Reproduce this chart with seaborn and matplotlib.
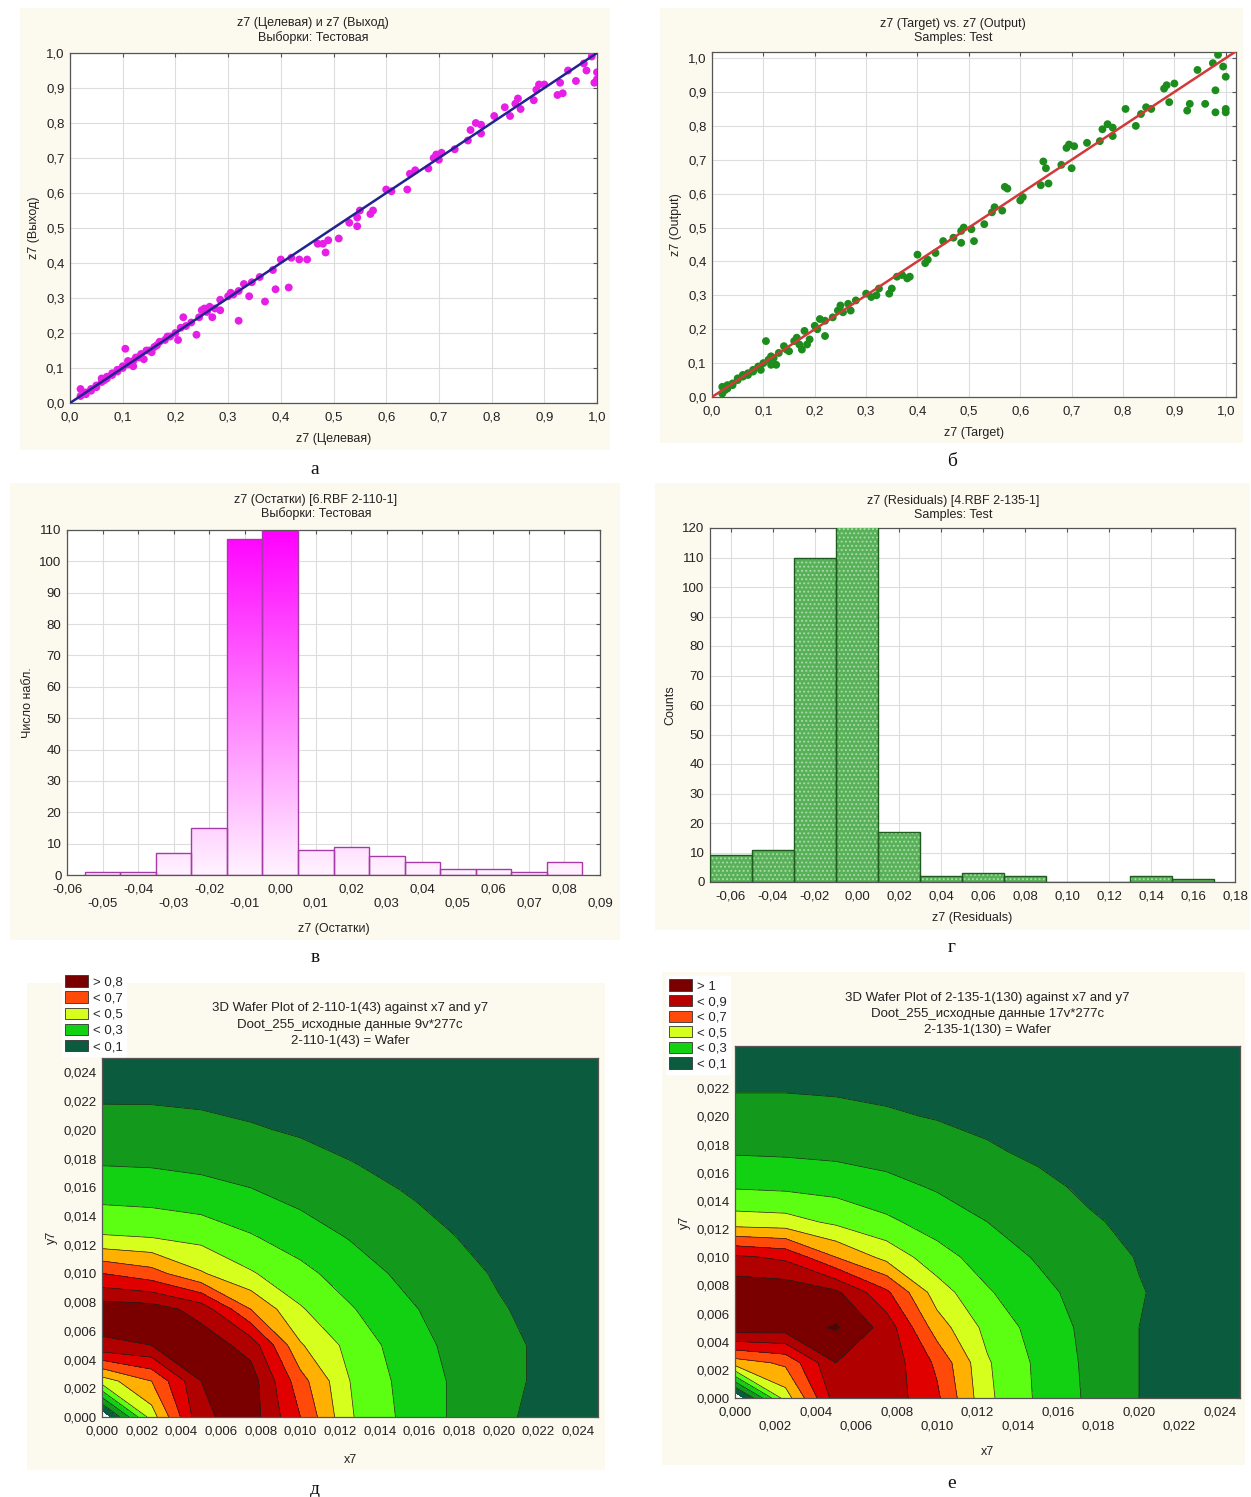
import numpy as np
import matplotlib
matplotlib.use("Agg")
import matplotlib.pyplot as plt
from matplotlib.colors import LinearSegmentedColormap
from matplotlib.patches import Rectangle, Patch
import seaborn as sns

W, H = 1251, 1497

# ---- а: target vs output, RBF 2-110-1 (test sample)
a_target = [0.02, 0.02, 0.03, 0.03, 0.04, 0.04, 0.05, 0.05, 0.06, 0.06,
            0.065, 0.07, 0.07, 0.08, 0.08, 0.09, 0.09, 0.10, 0.10, 0.105,
            0.11, 0.11, 0.12, 0.12, 0.125, 0.13, 0.135, 0.14, 0.145, 0.15,
            0.155, 0.16, 0.165, 0.17, 0.18, 0.185, 0.19, 0.20, 0.205, 0.21,
            0.215, 0.22, 0.23, 0.24, 0.245, 0.25, 0.255, 0.26, 0.265, 0.27,
            0.275, 0.285, 0.285, 0.30, 0.305, 0.31, 0.32, 0.32, 0.33, 0.34,
            0.345, 0.36, 0.37, 0.385, 0.39, 0.40, 0.415, 0.42, 0.435, 0.45,
            0.47, 0.48, 0.485, 0.49, 0.51, 0.53, 0.545, 0.55, 0.545, 0.57,
            0.575, 0.60, 0.61, 0.64, 0.645, 0.655, 0.68, 0.69, 0.695, 0.70,
            0.705, 0.73, 0.755, 0.76, 0.77, 0.78, 0.78, 0.805, 0.825, 0.835,
            0.845, 0.85, 0.855, 0.88, 0.885, 0.89, 0.90, 0.925, 0.93, 0.935,
            0.945, 0.96, 0.975, 0.98, 0.99, 1.0, 1.0, 0.995]
a_output = [0.04, 0.02, 0.03, 0.025, 0.04, 0.035, 0.05, 0.045, 0.06, 0.07,
            0.065, 0.07, 0.075, 0.08, 0.085, 0.09, 0.095, 0.10, 0.105, 0.155,
            0.11, 0.12, 0.12, 0.105, 0.13, 0.13, 0.14, 0.125, 0.15, 0.15,
            0.145, 0.16, 0.165, 0.175, 0.18, 0.19, 0.19, 0.20, 0.18, 0.215,
            0.245, 0.22, 0.23, 0.195, 0.245, 0.265, 0.27, 0.26, 0.275, 0.245,
            0.27, 0.265, 0.295, 0.305, 0.315, 0.31, 0.235, 0.32, 0.34, 0.305,
            0.345, 0.36, 0.29, 0.38, 0.325, 0.41, 0.33, 0.415, 0.41, 0.41,
            0.455, 0.455, 0.43, 0.465, 0.47, 0.515, 0.505, 0.55, 0.53, 0.54,
            0.55, 0.61, 0.605, 0.61, 0.655, 0.665, 0.67, 0.70, 0.71, 0.695,
            0.715, 0.725, 0.75, 0.78, 0.80, 0.795, 0.77, 0.82, 0.845, 0.82,
            0.855, 0.87, 0.84, 0.865, 0.895, 0.91, 0.91, 0.88, 0.915, 0.885,
            0.95, 0.92, 0.97, 0.95, 0.99, 0.945, 0.925, 0.915]
a_fit = [0.0, 1.0]

# ---- б: target vs output, RBF 2-135-1 (test sample)
b_target = [0.02, 0.02, 0.025, 0.03, 0.03, 0.04, 0.04, 0.05, 0.05, 0.06,
            0.06, 0.07, 0.07, 0.08, 0.08, 0.09, 0.095, 0.10, 0.105, 0.11,
            0.115, 0.115, 0.12, 0.125, 0.13, 0.14, 0.145, 0.15, 0.16, 0.165,
            0.17, 0.175, 0.18, 0.185, 0.19, 0.20, 0.205, 0.21, 0.22, 0.22,
            0.235, 0.245, 0.25, 0.255, 0.265, 0.27, 0.28, 0.30, 0.31, 0.32,
            0.325, 0.345, 0.35, 0.36, 0.37, 0.38, 0.385, 0.40, 0.415, 0.42,
            0.435, 0.45, 0.47, 0.485, 0.485, 0.49, 0.505, 0.51, 0.53, 0.545,
            0.55, 0.565, 0.57, 0.575, 0.60, 0.605, 0.64, 0.645, 0.65, 0.655,
            0.68, 0.69, 0.695, 0.70, 0.705, 0.73, 0.755, 0.76, 0.77, 0.78,
            0.78, 0.805, 0.825, 0.835, 0.845, 0.855, 0.88, 0.885, 0.89, 0.90,
            0.925, 0.93, 0.945, 0.96, 0.975, 0.98, 0.98, 0.985, 0.995, 1.0,
            1.0, 1.0]
b_output = [0.03, 0.01, 0.02, 0.035, 0.025, 0.04, 0.035, 0.05, 0.055, 0.06,
            0.065, 0.07, 0.065, 0.08, 0.075, 0.09, 0.08, 0.10, 0.165, 0.11,
            0.12, 0.095, 0.115, 0.095, 0.13, 0.15, 0.14, 0.135, 0.165, 0.175,
            0.155, 0.14, 0.195, 0.155, 0.17, 0.21, 0.20, 0.23, 0.18, 0.225,
            0.235, 0.255, 0.27, 0.25, 0.275, 0.255, 0.285, 0.305, 0.295, 0.30,
            0.32, 0.305, 0.32, 0.355, 0.36, 0.35, 0.355, 0.42, 0.395, 0.405,
            0.425, 0.46, 0.47, 0.455, 0.49, 0.50, 0.495, 0.46, 0.51, 0.545,
            0.56, 0.55, 0.62, 0.615, 0.58, 0.59, 0.625, 0.695, 0.675, 0.63,
            0.685, 0.735, 0.745, 0.675, 0.74, 0.75, 0.755, 0.79, 0.805, 0.77,
            0.795, 0.85, 0.80, 0.835, 0.855, 0.85, 0.91, 0.92, 0.87, 0.925,
            0.845, 0.865, 0.965, 0.865, 0.985, 0.905, 0.84, 1.01, 0.975, 0.945,
            0.85, 0.84]
b_fit = [0.0, 1.02]

# ---- в: residual histogram, RBF 2-110-1
v_centers = [-0.05, -0.04, -0.03, -0.02, -0.01, 0.00, 0.01,
             0.02, 0.03, 0.04, 0.05, 0.06, 0.07, 0.08]
v_counts = [1, 1, 7, 15, 107, 118, 8, 9, 6, 4, 2, 2, 1, 4]
v_width = 0.01

# ---- г: residual histogram, RBF 2-135-1
g_centers = [-0.06, -0.04, -0.02, 0.00, 0.02, 0.04,
             0.06, 0.08, 0.10, 0.12, 0.14, 0.16]
g_counts = [9, 11, 110, 126, 17, 2, 3, 2, 0, 0, 2, 1]
g_width = 0.02

# ---- д, е: wafer surfaces on a 0.0025 grid (rows = y7, columns = x7)
grid_x = [0.0, 0.0025, 0.005, 0.0075, 0.01, 0.0125, 0.015, 0.0175, 0.02, 0.0225, 0.025]
grid_y = [0.0, 0.0025, 0.005, 0.0075, 0.01, 0.0125, 0.015, 0.0175, 0.02, 0.0225, 0.025]
d_values = [
    [-0.10, 0.45, 0.88, 0.95, 0.70, 0.41, 0.29, 0.195, 0.115, 0.075, 0.050],
    [0.45, 0.60, 0.90, 0.95, 0.64, 0.40, 0.28, 0.195, 0.125, 0.080, 0.055],
    [0.88, 0.90, 0.96, 0.86, 0.51, 0.37, 0.26, 0.180, 0.125, 0.080, 0.050],
    [0.96, 0.95, 0.86, 0.60, 0.41, 0.31, 0.225, 0.160, 0.108, 0.070, 0.045],
    [0.70, 0.64, 0.51, 0.41, 0.33, 0.25, 0.185, 0.135, 0.090, 0.060, 0.040],
    [0.41, 0.40, 0.37, 0.31, 0.25, 0.195, 0.150, 0.105, 0.072, 0.050, 0.035],
    [0.29, 0.28, 0.26, 0.225, 0.185, 0.150, 0.110, 0.080, 0.055, 0.040, 0.030],
    [0.20, 0.195, 0.18, 0.16, 0.135, 0.105, 0.080, 0.058, 0.042, 0.033, 0.027],
    [0.13, 0.135, 0.125, 0.108, 0.090, 0.072, 0.055, 0.042, 0.034, 0.028, 0.025],
    [0.088, 0.085, 0.080, 0.070, 0.060, 0.050, 0.040, 0.033, 0.028, 0.025, 0.022],
    [0.055, 0.055, 0.050, 0.045, 0.040, 0.035, 0.030, 0.027, 0.025, 0.022, 0.020],
]
e_values = [
    [-0.10, 0.45, 0.85, 0.86, 0.72, 0.42, 0.285, 0.185, 0.100, 0.070, 0.045],
    [0.55, 0.62, 0.90, 0.87, 0.68, 0.41, 0.28, 0.18, 0.100, 0.068, 0.045],
    [0.96, 0.95, 1.01, 0.86, 0.55, 0.37, 0.26, 0.175, 0.100, 0.068, 0.045],
    [0.97, 0.97, 0.92, 0.72, 0.45, 0.31, 0.23, 0.16, 0.105, 0.070, 0.045],
    [0.82, 0.78, 0.60, 0.47, 0.34, 0.255, 0.19, 0.14, 0.095, 0.065, 0.040],
    [0.45, 0.44, 0.38, 0.32, 0.255, 0.20, 0.155, 0.11, 0.080, 0.055, 0.035],
    [0.29, 0.28, 0.265, 0.23, 0.19, 0.155, 0.12, 0.085, 0.060, 0.045, 0.030],
    [0.19, 0.185, 0.175, 0.16, 0.14, 0.11, 0.085, 0.068, 0.050, 0.035, 0.028],
    [0.13, 0.13, 0.125, 0.11, 0.095, 0.08, 0.060, 0.050, 0.040, 0.030, 0.025],
    [0.085, 0.085, 0.08, 0.075, 0.065, 0.055, 0.045, 0.035, 0.030, 0.025, 0.022],
    [0.050, 0.050, 0.048, 0.045, 0.040, 0.035, 0.030, 0.028, 0.025, 0.022, 0.020],
]
d_levels = [0, 0.1, 0.2, 0.3, 0.4, 0.5, 0.6, 0.7, 0.8, 0.9, 1.0]
e_levels = [0, 0.1, 0.2, 0.3, 0.4, 0.5, 0.6, 0.7, 0.8, 0.9, 1.0, 1.1]
band_colors = ["#0b5c3e", "#139a1c", "#12d012", "#5cff12", "#d6ff1e", "#ffb000",
               "#ff4a0a", "#e00000", "#b00000", "#7a0000", "#5a0000"]
d_leg_labels = ["> 0,8", "< 0,7", "< 0,5", "< 0,3", "< 0,1"]
d_leg_colors = ["#7a0000", "#ff4a0a", "#d6ff1e", "#12d012", "#0b5c3e"]
e_leg_labels = ["> 1", "< 0,9", "< 0,7", "< 0,5", "< 0,3", "< 0,1"]
e_leg_colors = ["#7a0000", "#b80000", "#ff4a0a", "#d6ff1e", "#12d012", "#0b5c3e"]

sns.set_style("white")
plt.rcParams["font.family"] = ["Liberation Sans", "DejaVu Sans"]
plt.rcParams["hatch.linewidth"] = 0.9

fig = plt.figure(figsize=(W / 100, H / 100), dpi=100)
cream = "#fcf9ee"
txt = "#222222"


def box(l, t, r, b):
    return [l / W, 1 - b / H, (r - l) / W, (b - t) / H]


def comma(v, nd):
    if abs(v) < 1e-12:
        v = 0.0
    return f"{v:.{nd}f}".replace(".", ",")


def style(ax, xt, yt, xnd, ynd, stagger=False, grid=True):
    ax.set_xticks(xt)
    labels = [comma(v, xnd) for v in xt]
    if stagger:
        labels = [s if i % 2 == 0 else "\n" + s for i, s in enumerate(labels)]
    ax.set_xticklabels(labels)
    ax.set_yticks(yt)
    ax.set_yticklabels([comma(v, ynd) for v in yt])
    ax.tick_params(direction="in", length=3, top=True, right=True,
                   labelsize=9.5, labelcolor=txt, color="#555555")
    ax.tick_params(axis="x", pad=6)
    ax.tick_params(axis="y", pad=4)
    for s in ax.spines.values():
        s.set_color("#555555")
        s.set_linewidth(0.9)
    if grid:
        ax.grid(True, color="#dddddd", lw=0.8)
        ax.set_axisbelow(True)


# panel backgrounds
for l, t, r, b in [(20, 8, 610, 450), (660, 8, 1243, 443), (10, 483, 620, 940),
                   (655, 483, 1250, 930), (27, 983, 605, 1470), (662, 972, 1245, 1465)]:
    fig.add_artist(Rectangle((l / W, 1 - b / H), (r - l) / W, (b - t) / H,
                             transform=fig.transFigure, facecolor=cream,
                             edgecolor="none", zorder=-10))

# ---- а
ax = fig.add_axes(box(70, 53, 597, 403))
sns.scatterplot(x=a_target, y=a_output, ax=ax, color="#e61ee6", s=32,
                edgecolor="none", zorder=3, legend=False)
sns.lineplot(x=a_fit, y=a_fit, ax=ax, color="#23238f", lw=1.8, zorder=4)
ax.set_xlim(0, 1.0)
ax.set_ylim(0, 1.0)
ticks = [round(0.1 * i, 1) for i in range(11)]
style(ax, ticks, ticks, 1, 1)
ax.set_title("z7 (Целевая) и z7 (Выход)\nВыборки: Тестовая", fontsize=9,
             color=txt, pad=9, x=0.461)
ax.set_xlabel("z7 (Целевая)", fontsize=9, color=txt, labelpad=7)
ax.set_ylabel("z7 (Выход)", fontsize=9, color=txt)

# ---- б
ax = fig.add_axes(box(712, 52, 1236, 397))
sns.scatterplot(x=b_target, y=b_output, ax=ax, color="#1c8c1c", s=32,
                edgecolor="none", zorder=3, legend=False)
sns.lineplot(x=b_fit, y=b_fit, ax=ax, color="#d23a3a", lw=1.8, zorder=4)
ax.set_xlim(0, 1.02)
ax.set_ylim(0, 1.018)
style(ax, ticks, ticks, 1, 1)
ax.set_title("z7 (Target) vs. z7 (Output)\nSamples: Test", fontsize=9,
             color=txt, pad=8, x=0.46)
ax.set_xlabel("z7 (Target)", fontsize=9, color=txt, labelpad=7)
ax.set_ylabel("z7 (Output)", fontsize=9, color=txt)

# ---- в
ax = fig.add_axes(box(67, 530, 600, 875))
v_edges = [c - v_width / 2 for c in v_centers] + [v_centers[-1] + v_width / 2]
sns.histplot(x=v_centers, weights=v_counts, bins=v_edges, ax=ax, fill=False,
             color="#a63aa6", linewidth=1.0)
pink = LinearSegmentedColormap.from_list("pink", ["#fff3ff", "#ff00ff"])
grad = np.linspace(0, 1, 256).reshape(-1, 1)
for p in list(ax.patches):
    p.set_zorder(3)
    x0 = p.get_x()
    im = ax.imshow(grad, extent=(x0, x0 + p.get_width(), 0, 110), origin="lower",
                   cmap=pink, aspect="auto", zorder=2, vmin=0, vmax=1)
    im.set_clip_path(p)
ax.set_xlim(-0.06, 0.09)
ax.set_ylim(0, 110)
style(ax, [round(-0.06 + 0.01 * i, 2) for i in range(16)],
      list(range(0, 111, 10)), 2, 0, stagger=True)
ax.set_title("z7 (Остатки) [6.RBF 2-110-1]\nВыборки: Тестовая", fontsize=9,
             color=txt, pad=9, x=0.467)
ax.set_xlabel("z7 (Остатки)", fontsize=9, color=txt, labelpad=10)
ax.set_ylabel("Число набл.", fontsize=9, color=txt)

# ---- г  (dotted fill, then dark outlines on top)
ax = fig.add_axes(box(710, 528, 1235, 882))
g_edges = [c - g_width / 2 for c in g_centers] + [g_centers[-1] + g_width / 2]
sns.histplot(x=g_centers, weights=g_counts, bins=g_edges, ax=ax,
             facecolor="#58b058", edgecolor="#a6dca6", linewidth=0,
             hatch="....", alpha=1)
sns.histplot(x=g_centers, weights=g_counts, bins=g_edges, ax=ax, fill=False,
             color="#1f5a1f", linewidth=1.0)
for p in ax.patches:
    p.set_zorder(3)
ax.set_xlim(-0.07, 0.18)
ax.set_ylim(0, 120)
style(ax, [round(-0.06 + 0.02 * i, 2) for i in range(13)],
      list(range(0, 121, 10)), 2, 0)
ax.set_title("z7 (Residuals) [4.RBF 2-135-1]\nSamples: Test", fontsize=9,
             color=txt, pad=7, x=0.463)
ax.set_xlabel("z7 (Residuals)", fontsize=9, color=txt, labelpad=7)
ax.set_ylabel("Counts", fontsize=9, color=txt)


# ---- д, е
def wafer(ax, z, levels):
    X, Y = np.meshgrid(grid_x, grid_y)
    Z = np.array(z)
    ax.contourf(X, Y, Z, levels=levels, colors=band_colors[:len(levels) - 1])
    ax.contour(X, Y, Z, levels=levels[1:-1], colors="#1e1e1e", linewidths=0.5)
    ax.set_xlim(0, 0.025)
    ax.set_ylim(0, 0.025)


wticks = [round(0.002 * i, 3) for i in range(13)]

ax = fig.add_axes(box(102, 1058, 598, 1417))
wafer(ax, d_values, d_levels)
style(ax, wticks, wticks, 3, 3, grid=False)
ax.set_title("3D Wafer Plot of 2-110-1(43) against x7 and y7\n"
             "Doot_255_исходные данные 9v*277c\n2-110-1(43) = Wafer",
             fontsize=9.5, color=txt, pad=10, linespacing=1.5)
ax.set_xlabel("x7", fontsize=9, color=txt, labelpad=12)
ax.set_ylabel("y7", fontsize=9, color=txt)
fig.legend([Patch(facecolor=c, edgecolor="#333333", lw=0.6) for c in d_leg_colors],
           d_leg_labels, loc="upper left", bbox_to_anchor=(62 / W, 1 - 972 / H),
           frameon=True, facecolor="white", edgecolor="white", fancybox=False,
           framealpha=1, fontsize=9.5, handlelength=1.7, handleheight=0.95,
           labelspacing=0.22, handletextpad=0.4, borderpad=0.25, borderaxespad=0)

ax = fig.add_axes(box(735, 1046, 1240, 1398))
wafer(ax, e_values, e_levels)
style(ax, wticks, wticks[:12], 3, 3, stagger=True, grid=False)
ax.set_title("3D Wafer Plot of 2-135-1(130) against x7 and y7\n"
             "Doot_255_исходные данные 17v*277c\n2-135-1(130) = Wafer",
             fontsize=9.5, color=txt, pad=9, linespacing=1.5)
ax.set_xlabel("x7", fontsize=9, color=txt, labelpad=10)
ax.set_ylabel("y7", fontsize=9, color=txt)
fig.legend([Patch(facecolor=c, edgecolor="#333333", lw=0.6) for c in e_leg_colors],
           e_leg_labels, loc="upper left", bbox_to_anchor=(666 / W, 1 - 976 / H),
           frameon=True, facecolor="white", edgecolor="white", fancybox=False,
           framealpha=1, fontsize=9.5, handlelength=1.7, handleheight=0.95,
           labelspacing=0.18, handletextpad=0.4, borderpad=0.25, borderaxespad=0)

# sub-figure letters
for s, x, y in [("а", 315, 470), ("б", 952, 461), ("в", 315, 958),
                ("г", 952, 948), ("д", 315, 1489), ("е", 952, 1484)]:
    fig.text(x / W, 1 - y / H, s, ha="center", va="center", fontsize=14,
             family=["Liberation Serif", "DejaVu Serif"], color="#111111")

fig.savefig("out.png", dpi=100)
